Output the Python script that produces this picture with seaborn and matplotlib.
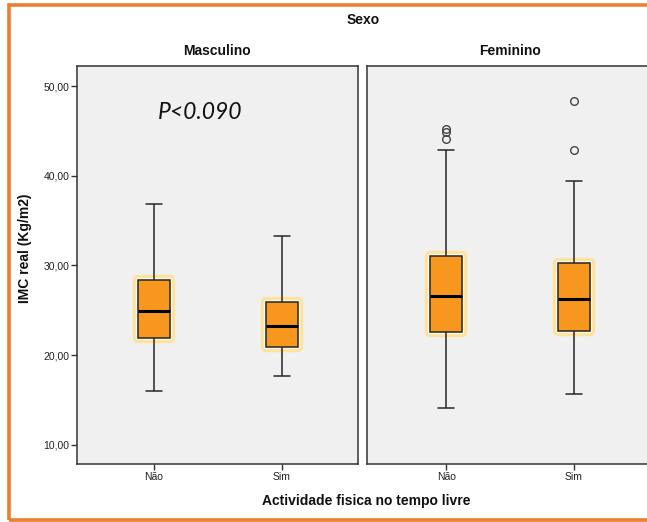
import numpy as np
import pandas as pd
import matplotlib
matplotlib.use("Agg")
import matplotlib.pyplot as plt
import matplotlib.patheffects as pe
from matplotlib.patches import Rectangle
from matplotlib.ticker import FuncFormatter, FixedLocator
import seaborn as sns

# ---- data ----
sexes = ["Masculino", "Feminino"]
activity_levels = ["Não", "Sim"]
group_sex = ["Masculino", "Masculino", "Feminino", "Feminino"]
group_act = ["Não", "Sim", "Não", "Sim"]
whisker_low = [16.0, 17.7, 14.1, 15.7]
q1 = [21.9, 20.9, 22.6, 22.75]
median = [24.95, 23.25, 26.65, 26.3]
q3 = [28.4, 25.95, 31.1, 30.25]
whisker_high = [36.9, 33.3, 42.9, 39.45]
outliers = [[], [], [44.1, 44.9, 45.2], [42.85, 48.35]]
y_ticks = [10, 20, 30, 40, 50]
p_text = "P<0.090"


def sample_from_summary(lo, a, m, b, hi, outs, k=4):
    """Sample of 4k+1 values whose quartiles/whiskers equal the read summary."""
    lower = [lo]
    upper = [hi] + list(outs)
    vals = lower + [a] * (k - len(lower))
    vals += [a] * k            # index k = Q1
    vals += [m]                # index 2k = median
    vals += [b] * k            # index 3k = Q3
    vals += upper + [b] * (k - len(upper))
    return vals


rows = []
for s, act, lo, a, m, b, hi, outs in zip(group_sex, group_act, whisker_low, q1,
                                         median, q3, whisker_high, outliers):
    for v in sample_from_summary(lo, a, m, b, hi, outs):
        rows.append({"Sexo": s, "Actividade": act, "IMC": v})
df = pd.DataFrame(rows)

# ---- styling ----
sns.set_style("white")
plt.rcParams["font.family"] = ["Liberation Sans", "DejaVu Sans"]
plt.rcParams["text.color"] = "#111111"
plt.rcParams["xtick.color"] = "#222222"
plt.rcParams["ytick.color"] = "#222222"

W, H = 647, 522
fig = plt.figure(figsize=(W / 100, H / 100), dpi=100)
fig.patch.set_facecolor("white")

panel_px = {"Masculino": (77, 358), "Feminino": (367, 648)}
xlims = {"Masculino": (-0.603, 1.597), "Feminino": (-0.62, 1.58)}
top_px, bot_px = 66, 464

box_color = "#F7971E"
halo_effects = [
    pe.Stroke(linewidth=7.5, foreground="#FDE39A", joinstyle="round"),
    pe.Stroke(linewidth=3.2, foreground="#FCF6E6", joinstyle="round"),
    pe.Normal(),
]

for i, sex in enumerate(sexes):
    x0, x1 = panel_px[sex]
    ax = fig.add_axes([x0 / W, 1 - bot_px / H, (x1 - x0) / W, (bot_px - top_px) / H])
    sub = df[df["Sexo"] == sex]
    sns.boxplot(
        data=sub, x="Actividade", y="IMC", order=activity_levels, ax=ax,
        color=box_color, saturation=1, width=0.25, linecolor="#262626",
        linewidth=1.1, fliersize=5.5, whis=1.5,
        medianprops=dict(color="black", linewidth=2.2),
        flierprops=dict(marker="o", markerfacecolor="none",
                        markeredgecolor="#444444", markeredgewidth=1.0),
    )
    for p in ax.patches:
        p.set_path_effects(halo_effects)
    ax.set_facecolor("#F0F0F0")
    ax.set_xlim(*xlims[sex])
    ax.set_ylim(7.88, 52.23)
    ax.set_xlabel("")
    ax.set_ylabel("")
    for sp in ax.spines.values():
        sp.set_color("#333333")
        sp.set_linewidth(1.1)
    ax.tick_params(axis="x", direction="out", length=4, width=1, color="#333333",
                   labelsize=7.5, pad=2, bottom=True)
    ax.set_xticks(range(len(activity_levels)))
    ax.set_xticklabels(activity_levels)
    if i == 0:
        ax.yaxis.set_major_locator(FixedLocator(y_ticks))
        ax.yaxis.set_major_formatter(
            FuncFormatter(lambda v, p: f"{v:.2f}".replace(".", ",")))
        ax.tick_params(axis="y", direction="out", length=4, width=1, color="#333333",
                       labelsize=7.5, pad=1.5, left=True)
    else:
        ax.set_yticks([])
    ax.grid(False)

# titles and labels
fig.text(363 / W, 1 - 20 / H, "Sexo", ha="center", va="center",
         fontsize=10, fontweight="bold")
fig.text(217 / W, 1 - 51 / H, "Masculino", ha="center", va="center",
         fontsize=10, fontweight="bold")
fig.text(510 / W, 1 - 51 / H, "Feminino", ha="center", va="center",
         fontsize=10, fontweight="bold")
fig.text(366 / W, 1 - 501 / H, "Actividade fisica no tempo livre", ha="center",
         va="center", fontsize=10, fontweight="bold")
fig.text(25 / W, 1 - 248 / H, "IMC real (Kg/m2)", ha="center", va="center",
         rotation=90, fontsize=10, fontweight="bold")
fig.text(200 / W, 1 - 112.5 / H, p_text, ha="center", va="center",
         fontsize=16.5, fontstyle="italic", family=["Lato", "DejaVu Sans"],
         color="#111111")

# orange frame
fig.add_artist(Rectangle((8.5 / W, 1 - 520 / H), (W + 20) / W, (520 - 4.5) / H,
                         transform=fig.transFigure, fill=False,
                         edgecolor="#ED7D31", linewidth=2.6, clip_on=False))

fig.savefig("out.png", dpi=100)
